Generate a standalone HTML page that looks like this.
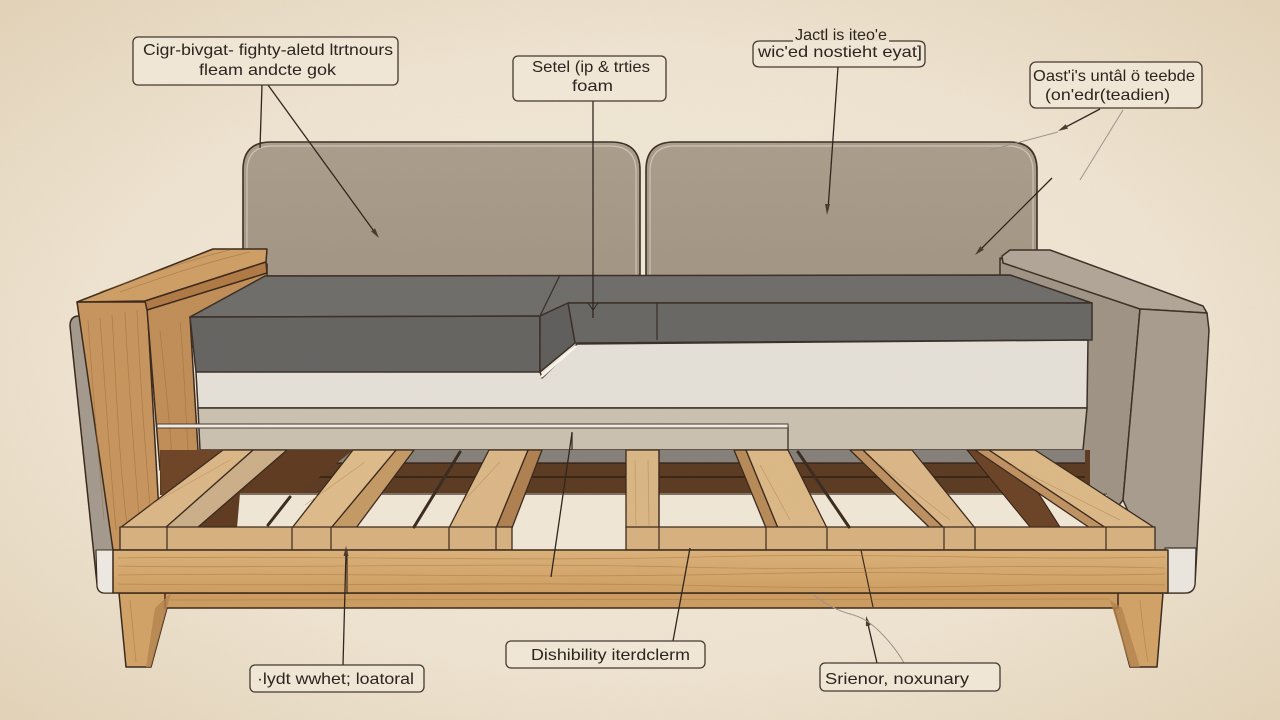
<!DOCTYPE html>
<html><head><meta charset="utf-8">
<style>html,body{margin:0;padding:0;background:#efe4d0;overflow:hidden}svg{display:block}</style>
</head><body>
<svg width="1280" height="720" viewBox="0 0 1280 720" xmlns="http://www.w3.org/2000/svg" font-family="'Liberation Sans', sans-serif">
<defs>
<radialGradient id="bg" cx="50%" cy="50%" r="72%">
<stop offset="0" stop-color="#f4ecdc"/>
<stop offset="0.6" stop-color="#f0e5d2"/>
<stop offset="1" stop-color="#e3d3b8"/>
</radialGradient>
<linearGradient id="cush" x1="0" y1="0" x2="0" y2="1"><stop offset="0" stop-color="#ab9e8c"/><stop offset="1" stop-color="#a49684"/></linearGradient>
<linearGradient id="rail" x1="0" y1="0" x2="0" y2="1"><stop offset="0" stop-color="#dcb27a"/><stop offset="1" stop-color="#cf9f63"/></linearGradient>
<filter id="noise" x="0" y="0" width="100%" height="100%">
<feTurbulence type="fractalNoise" baseFrequency="0.9" numOctaves="2" seed="3"/>
<feColorMatrix type="matrix" values="0 0 0 0 0.3  0 0 0 0 0.25  0 0 0 0 0.2  0 0 0 0.5 0"/>
</filter>
</defs>

<!-- background -->
<rect width="1280" height="720" fill="url(#bg)"/>

<!-- back cushions -->
<g stroke="#3b2f26" stroke-width="1.6" stroke-linejoin="round">
<path d="M243,276 L243,170 Q243,142 271,142 L611,142 Q640,142 640,170 L640,276 Z" fill="url(#cush)"/>
<path d="M646,276 L646,170 Q646,142 674,142 L1009,142 Q1037,142 1037,170 L1037,276 Z" fill="url(#cush)"/>
</g>
<g fill="none" stroke="#d9d0c3" stroke-width="1.2" opacity="0.8">
<path d="M247,276 L247,172 Q247,146 272,146 L610,146 Q636,146 636,172 L636,276"/>
<path d="M650,276 L650,172 Q650,146 675,146 L1008,146 Q1033,146 1033,172 L1033,276"/>
</g>

<!-- right arm (upholstered) -->
<g stroke="#3b2f26" stroke-width="1.5" stroke-linejoin="round">
<polygon points="1000,258 1140,309 1123,500 1100,530 1080,450 1000,290" fill="#9f9486"/>
<polygon points="1002,256 1010,250 1050,250 1203,306 1207,313 1140,309 1003,263" fill="#b1a697"/>
<path d="M1140,309 L1207,313 L1209,330 L1195,584 Q1194,593 1185,593 L1165,593 L1150,560 L1123,500 Z" fill="#a89d8f"/>
<path d="M1165,548 L1196,548 L1195,584 Q1194,593 1185,593 L1165,593 Z" fill="#ece7e0" stroke-width="1.2"/>
</g>

<!-- left arm -->
<g stroke="#3a281b" stroke-width="1.5" stroke-linejoin="round">
<path d="M70,326 Q70,316 79,316 L92,318 L113,550 L113,593 L105,593 Q97,593 97,584 Z" fill="#a49a8e"/>
<path d="M96,550 L113,550 L113,593 L105,593 Q97,593 97,584 Z" fill="#efebe4" stroke-width="1.1"/>
<polygon points="77,302 147,302 160,530 165,550 113,550" fill="#c8955d"/>
<polygon points="147,309 267,264 267,276 190,317 198,450 160,470" fill="#c18e57"/>
<polygon points="77,302 213,249 267,249 266,262 145,301" fill="#cf9f66"/>
<polygon points="145,301 266,262 267,273 147,310" fill="#b07a45"/>
</g>
<g fill="none" stroke="#9c6a36" stroke-width="0.8" opacity="0.55">
<path d="M88,320 C92,380 96,430 104,520"/><path d="M100,318 C104,370 108,440 116,530"/>
<path d="M112,315 C116,380 118,450 128,535"/><path d="M125,312 C128,380 134,450 140,530"/>
<path d="M137,310 C140,380 146,460 152,530"/>
<path d="M100,292 C140,278 180,262 230,250"/><path d="M120,292 C160,278 200,264 250,252"/>
<path d="M160,330 C165,380 170,420 172,460"/><path d="M180,322 C184,360 186,420 188,452"/>
</g>

<!-- seat cushion -->
<g stroke="#3a2e26" stroke-width="1.5" stroke-linejoin="round">
<polygon points="190,317 265,276 1010,275 1092,303 568,303 540,316" fill="#6e6d6a"/>
<polygon points="190,317 540,316 540,377 196,372" fill="#656462"/>
<polygon points="568,303 1092,303 1092,340 575,343" fill="#686765"/>
<polygon points="540,316 568,303 575,343 540,372" fill="#5f5e5c"/>
<polygon points="196,372 540,372 542,378 577,344 1088,340 1087,408 198,408" fill="#e6e1d9"/>
<polygon points="198,408 1087,408 1083,450 200,450" fill="#ccc2b1"/>
</g>
<g fill="none" stroke="#3a2e26" stroke-width="1.3">
<line x1="560" y1="275" x2="540" y2="316"/>
<line x1="657" y1="303" x2="657" y2="340"/>
<line x1="788" y1="426" x2="788" y2="450"/>
<line x1="572" y1="432" x2="572" y2="450"/>
</g>
<polyline points="541,377 576,346" fill="none" stroke="#fbf8f3" stroke-width="2.5"/>
<rect x="157" y="424" width="631" height="4" fill="#f2ede5" stroke="#4a3b30" stroke-width="1"/>

<!-- slat area -->
<rect x="160" y="450" width="930" height="45" fill="#5b3a21"/>
<rect x="200" y="450" width="885" height="13" fill="#85807a"/>
<line x1="200" y1="463" x2="1085" y2="463" stroke="#2e1e12" stroke-width="1.2"/>
<line x1="200" y1="477" x2="1085" y2="477" stroke="#2e1e12" stroke-width="1.5"/>
<rect x="197" y="493" width="910" height="57" fill="#f1e8d7"/>
<line x1="197" y1="494" x2="1107" y2="494" stroke="#3a2818" stroke-width="1.2"/>
<polygon points="160,450 232,450 200,528 163,528" fill="#6e4426"/>
<polygon points="197,528 287,450 353,450 300,493 240,493 237,528" fill="#5e3a20"/>
<polygon points="967,450 1011,450 1060,527 1030,527" fill="#6b4326" stroke="#2e1e12" stroke-width="1"/>

<g stroke="#3a281b" stroke-width="1.3" stroke-linejoin="round">
<!-- slat tops/sides -->
<polygon points="165,528 197,528 287,450 253,450" fill="#ccb08a"/>
<polygon points="120,528 165,528 253,450 223,450" fill="#dcb888"/>
<polygon points="331,528 356,528 414,450 396,450" fill="#c59a66"/>
<polygon points="292,528 331,528 396,450 353,450" fill="#dfbc8b"/>
<polygon points="496,528 512,528 542,450 528,450" fill="#b08050"/>
<polygon points="449,528 496,528 528,450 489,450" fill="#dcb888"/>
<rect x="626" y="450" width="33" height="78" fill="#dbb786"/>
<polygon points="734,450 746,450 778,528 766,528" fill="#b88a58"/>
<polygon points="746,450 788,450 827,528 778,528" fill="#ddb987"/>
<polygon points="850,450 863,450 944,528 930,528" fill="#bd9060"/>
<polygon points="863,450 912,450 975,528 944,528" fill="#dcb888"/>
<polygon points="975,450 989,450 1106,528 1090,528" fill="#c09262"/>
<polygon points="989,450 1035,450 1155,528 1106,528" fill="#ddb987"/>
<!-- front row -->
<rect x="120" y="527" width="392" height="23" fill="#d8b280"/>
<rect x="626" y="527" width="529" height="23" fill="#d8b280"/>
</g>
<g stroke="#3a281b" stroke-width="1.2">
<line x1="167" y1="527" x2="167" y2="550"/><line x1="292" y1="527" x2="292" y2="550"/>
<line x1="331" y1="527" x2="331" y2="550"/><line x1="449" y1="527" x2="449" y2="550"/>
<line x1="496" y1="527" x2="496" y2="550"/><line x1="659" y1="450" x2="659" y2="550"/>
<line x1="766" y1="527" x2="766" y2="550"/><line x1="827" y1="527" x2="827" y2="550"/>
<line x1="944" y1="527" x2="944" y2="550"/><line x1="975" y1="527" x2="975" y2="550"/>
<line x1="1106" y1="527" x2="1106" y2="550"/>
</g>
<!-- rods -->
<g stroke="#3a2a20" stroke-width="3" stroke-linecap="round">
<line x1="460" y1="452" x2="414" y2="527"/>
<line x1="798" y1="452" x2="849" y2="527"/>
<line x1="290" y1="497" x2="268" y2="525"/>
</g>
<g fill="none" stroke="#a9783f" stroke-width="0.7" opacity="0.5">
<path d="M150,505 L230,460"/><path d="M305,505 L365,462"/><path d="M460,505 L500,462"/>
<path d="M635,460 L636,525"/><path d="M648,460 L649,525"/>
<path d="M760,465 L790,520"/><path d="M880,465 L950,520"/><path d="M1010,465 L1120,520"/>
</g>

<!-- base rail -->
<g stroke="#3a281b" stroke-width="1.5" stroke-linejoin="round">
<polygon points="119,593 171,593 151,667 126,667" fill="#d3a368"/>
<polygon points="1110,593 1163,593 1157,667 1130,667" fill="#d3a368"/>
<rect x="165" y="593" width="953" height="15" fill="#cd9d61"/>
<rect x="113" y="550" width="1055" height="43" fill="url(#rail)"/>
</g>
<polygon points="155,608 171,593 151,667 146,667" fill="#b5834d" opacity="0.8"/>
<polygon points="1110,600 1122,608 1140,667 1130,667" fill="#b5834d" opacity="0.8"/>
<g stroke="#3a281b" stroke-width="1.2">
<line x1="347" y1="550" x2="347" y2="593"/>
<line x1="861" y1="550" x2="873" y2="607"/>
</g>
<g fill="none" stroke="#a46f35" stroke-width="0.8" opacity="0.5">
<path d="M118,558 C300,555 500,562 700,557 S1000,561 1165,557"/>
<path d="M118,566 C260,569 480,562 680,567 S980,563 1165,568"/>
<path d="M118,575 C320,572 520,579 740,574 S1000,578 1165,574"/>
<path d="M118,584 C300,587 520,581 720,586 S1020,582 1165,585"/>
<path d="M170,600 C400,598 700,602 1110,599"/>
<path d="M130,600 C132,620 134,640 136,662"/><path d="M1140,600 C1142,620 1144,640 1148,662"/>
</g>

<!-- leader lines -->
<g stroke="#2e241d" stroke-width="1.3" fill="none">
<line x1="262" y1="85" x2="260" y2="148"/>
<line x1="268" y1="85" x2="376" y2="234"/>
<line x1="593" y1="101" x2="593" y2="318"/>
<polyline points="588,303 593,310 598,303" stroke-width="1"/>
<line x1="838" y1="67" x2="828" y2="210"/>
<line x1="1100" y1="109" x2="1062" y2="129"/>
<line x1="1052" y1="178" x2="978" y2="252"/>
<line x1="572" y1="433" x2="551" y2="577"/>
<line x1="343" y1="665" x2="346" y2="552"/>
<line x1="673" y1="641" x2="690" y2="548"/>
<line x1="877" y1="663" x2="867" y2="620"/>
</g>
<g fill="#4a3a2e">
<polygon points="379,238 371,231.4 375.1,228.4"/>
<polygon points="827,215 825,204 830,204"/>
<polygon points="1058,131 1065.7,124.2 1068,128.6"/>
<polygon points="975,255 983.9,249.7 980.3,246.1"/>
<polygon points="346,546 343.5,556 348.5,556"/>
<polygon points="866,616 870.7,625.1 865.9,626.3"/>
</g>
<g stroke="#9d958c" stroke-width="1" fill="none">
<line x1="1058" y1="132" x2="990" y2="150"/>
<line x1="1123" y1="110" x2="1080" y2="180"/>
<line x1="975" y1="256" x2="966" y2="264"/>
<path d="M813,595 C825,603 835,610 850,614 C862,617 870,622 880,632 C890,642 898,652 904,663"/>
</g>

<!-- labels -->
<g fill="#f2e9d8" stroke="#44372c" stroke-width="1.3">
<rect x="133" y="37" width="265" height="48" rx="5"/>
<rect x="513" y="56" width="153" height="45" rx="5"/>
<rect x="1030" y="62" width="172" height="46" rx="6"/>
<rect x="250" y="665" width="174" height="27" rx="5"/>
<rect x="506" y="641" width="199" height="27" rx="5"/>
<rect x="820" y="663" width="180" height="28" rx="5"/>
</g>
<path d="M793,41 L760,41 Q753,41 753,47 L753,61 Q753,67 760,67 L918,67 Q925,67 925,61 L925,47 Q925,41 918,41 L889,41" fill="#f2e9d8" stroke="#44372c" stroke-width="1.3"/>
<g fill="#2a221c" font-size="16">
<text x="143" y="55" textLength="250" lengthAdjust="spacingAndGlyphs">Cigr-bivgat- fighty-aletd ltrtnours</text>
<text x="199" y="75" textLength="137" lengthAdjust="spacingAndGlyphs">fleam andcte gok</text>
<text x="532" y="72" textLength="118" lengthAdjust="spacingAndGlyphs">Setel (ip &amp; trties</text>
<text x="572" y="91" textLength="41" lengthAdjust="spacingAndGlyphs">foam</text>
<text x="795" y="40" textLength="92" lengthAdjust="spacingAndGlyphs">Jactl is iteo'e</text>
<text x="758" y="57" textLength="164" lengthAdjust="spacingAndGlyphs">wic'ed nostieht eyat]</text>
<text x="1033" y="81" textLength="162" lengthAdjust="spacingAndGlyphs">Oast'i's untâl ö teebde</text>
<text x="1045" y="100" textLength="125" lengthAdjust="spacingAndGlyphs">(on'edr(teadien)</text>
<text x="257" y="684" textLength="157" lengthAdjust="spacingAndGlyphs">·lydt wwhet; loatoral</text>
<text x="531" y="660" textLength="159" lengthAdjust="spacingAndGlyphs">Dishibility iterdclerm</text>
<text x="825" y="684" textLength="144" lengthAdjust="spacingAndGlyphs">Srienor, noxunary</text>
</g>

<rect width="1280" height="720" filter="url(#noise)" opacity="0.12"/>
</svg>
</body></html>
